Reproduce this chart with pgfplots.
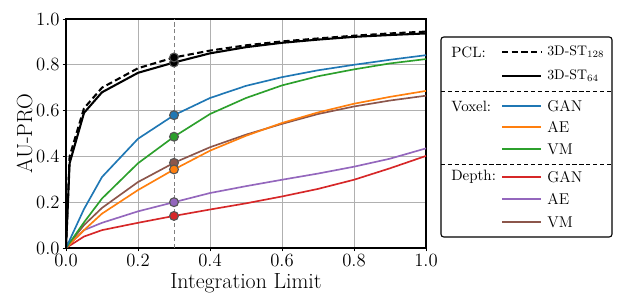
\documentclass[border=0pt]{standalone}
\usepackage{fontspec}
\usepackage{pgfplots}
\pgfplotsset{compat=1.18}
\definecolor{tabblue}{HTML}{1F77B4}
\definecolor{taborange}{HTML}{FF7F0E}
\definecolor{tabgreen}{HTML}{2CA02C}
\definecolor{tabred}{HTML}{D62728}
\definecolor{tabpurple}{HTML}{9467BD}
\definecolor{tabbrown}{HTML}{8C564B}
\definecolor{gridgray}{HTML}{B0B0B0}
\definecolor{edgegray}{HTML}{555555}
\begin{document}
\begin{tikzpicture}
\begin{axis}[name=ax, scale only axis, width=260.1pt, height=165.45pt,
  xmin=0, xmax=1, ymin=0, ymax=1,
  xtick={0,0.2,0.4,0.6,0.8,1.0}, ytick={0,0.2,0.4,0.6,0.8,1.0},
  grid=major, grid style={gridgray, line width=0.7pt},
  axis line style={line width=1pt},
  tick align=outside, major tick length=2.5pt, tick style={black, line width=0.6pt},
  xtick pos=bottom, ytick pos=left,
  tick label style={font=\fontsize{13.5}{13.5}\selectfont},
  /pgf/number format/assume math mode=true,
  xticklabel style={inner sep=1.5pt, /pgf/number format/.cd, fixed, fixed zerofill, precision=1},
  yticklabel style={inner sep=2pt, /pgf/number format/.cd, fixed, fixed zerofill, precision=1},
  xlabel={Integration Limit}, ylabel={AU-PRO},
  label style={font=\fontsize{15.8}{15.8}\selectfont},
  xlabel style={inner sep=0pt, yshift=-3.5pt}, ylabel style={yshift=-3pt},
]
\addplot[gray, densely dashed, line width=0.6pt] coordinates {(0.3,0) (0.3,1)};
% Depth GAN
\addplot[tabred, line width=1.2pt] coordinates {(0,0) (0.05,0.05) (0.1,0.078) (0.2,0.11) (0.3,0.14) (0.4,0.168) (0.5,0.195) (0.6,0.225) (0.7,0.258) (0.8,0.298) (0.9,0.348) (1.0,0.402)};
% Depth AE
\addplot[tabpurple, line width=1.2pt] coordinates {(0,0) (0.05,0.078) (0.1,0.11) (0.2,0.16) (0.3,0.20) (0.4,0.24) (0.5,0.27) (0.6,0.298) (0.7,0.325) (0.8,0.355) (0.9,0.39) (1.0,0.435)};
% Depth VM
\addplot[tabbrown, line width=1.2pt] coordinates {(0,0) (0.05,0.10) (0.1,0.175) (0.2,0.288) (0.3,0.372) (0.4,0.44) (0.5,0.495) (0.6,0.542) (0.7,0.585) (0.8,0.618) (0.9,0.644) (1.0,0.665)};
% Voxel AE
\addplot[taborange, line width=1.2pt] coordinates {(0,0) (0.05,0.078) (0.1,0.15) (0.2,0.253) (0.3,0.343) (0.4,0.425) (0.5,0.49) (0.6,0.546) (0.7,0.592) (0.8,0.63) (0.9,0.66) (1.0,0.686)};
% Voxel VM
\addplot[tabgreen, line width=1.2pt] coordinates {(0,0) (0.05,0.112) (0.1,0.216) (0.2,0.37) (0.3,0.486) (0.4,0.585) (0.5,0.655) (0.6,0.71) (0.7,0.75) (0.8,0.78) (0.9,0.806) (1.0,0.825)};
% Voxel GAN
\addplot[tabblue, line width=1.2pt] coordinates {(0,0) (0.05,0.17) (0.1,0.31) (0.2,0.477) (0.3,0.58) (0.4,0.655) (0.5,0.708) (0.6,0.746) (0.7,0.776) (0.8,0.80) (0.9,0.822) (1.0,0.842)};
% 3D-ST 64
\addplot[black, line width=1.5pt] coordinates {(0,0) (0.01,0.37) (0.05,0.59) (0.1,0.68) (0.2,0.765) (0.3,0.81) (0.4,0.85) (0.5,0.877) (0.6,0.896) (0.7,0.91) (0.8,0.922) (0.9,0.93) (1.0,0.937)};
% 3D-ST 128
\addplot[black, line width=1.5pt, dash pattern=on 4.5pt off 2.5pt] coordinates {(0,0) (0.01,0.40) (0.05,0.61) (0.1,0.70) (0.2,0.785) (0.3,0.832) (0.4,0.862) (0.5,0.885) (0.6,0.902) (0.7,0.915) (0.8,0.927) (0.9,0.937) (1.0,0.945)};
% markers at 0.3
\addplot[only marks, mark=*, mark size=3.2pt, mark options={fill=black, draw=edgegray, line width=0.8pt}] coordinates {(0.3,0.81) (0.3,0.832)};
\addplot[only marks, mark=*, mark size=3.2pt, mark options={fill=tabblue, draw=edgegray, line width=0.8pt}] coordinates {(0.3,0.58)};
\addplot[only marks, mark=*, mark size=3.2pt, mark options={fill=tabgreen, draw=edgegray, line width=0.8pt}] coordinates {(0.3,0.486)};
\addplot[only marks, mark=*, mark size=3.2pt, mark options={fill=tabbrown, draw=edgegray, line width=0.8pt}] coordinates {(0.3,0.372)};
\addplot[only marks, mark=*, mark size=3.2pt, mark options={fill=taborange, draw=edgegray, line width=0.8pt}] coordinates {(0.3,0.343)};
\addplot[only marks, mark=*, mark size=3.2pt, mark options={fill=tabpurple, draw=edgegray, line width=0.8pt}] coordinates {(0.3,0.20)};
\addplot[only marks, mark=*, mark size=3.2pt, mark options={fill=tabred, draw=edgegray, line width=0.8pt}] coordinates {(0.3,0.14)};
\end{axis}
\begin{scope}[shift={(ax.north east)}, x=0.7225pt, y=-0.7225pt, every node/.style={font=\fontsize{11.3}{11.3}\selectfont, inner sep=0pt}]
\draw[rounded corners=2pt, line width=0.8pt] (15,18) rectangle (186,218);
\draw[densely dashed, line width=0.4pt] (15,72) -- (186,72);
\draw[densely dashed, line width=0.4pt] (15,145) -- (186,145);
\node[anchor=west, font=\fontsize{10.8}{10.8}\selectfont] at (25,33) {PCL:};
\node[anchor=west, font=\fontsize{10.8}{10.8}\selectfont] at (25,87) {Voxel:};
\node[anchor=west, font=\fontsize{10.8}{10.8}\selectfont] at (25,158) {Depth:};
\draw[black, line width=1.6pt, dash pattern=on 4.5pt off 2.5pt] (76,33) -- (115,33);
\draw[black, line width=1.6pt] (76,57) -- (115,57);
\draw[tabblue, line width=1.6pt] (76,87) -- (115,87);
\draw[taborange, line width=1.6pt] (76,108) -- (115,108);
\draw[tabgreen, line width=1.6pt] (76,130) -- (115,130);
\draw[tabred, line width=1.6pt] (76,158) -- (115,158);
\draw[tabpurple, line width=1.6pt] (76,180) -- (115,180);
\draw[tabbrown, line width=1.6pt] (76,203) -- (115,203);
\node[anchor=west, font=\fontsize{10}{10}\selectfont] at (121,33) {3D-ST\raisebox{-0.35ex}{\fontsize{7}{7}\selectfont 128}};
\node[anchor=west, font=\fontsize{10}{10}\selectfont] at (121,57) {3D-ST\raisebox{-0.35ex}{\fontsize{7}{7}\selectfont 64}};
\node[anchor=west] at (121,87) {GAN};
\node[anchor=west] at (121,108) {AE};
\node[anchor=west] at (121,130) {VM};
\node[anchor=west] at (121,158) {GAN};
\node[anchor=west] at (121,180) {AE};
\node[anchor=west] at (121,203) {VM};
\pgfresetboundingbox
\path[use as bounding box] (-426,-19) rectangle (197,278);
\end{scope}
\end{tikzpicture}
\end{document}
